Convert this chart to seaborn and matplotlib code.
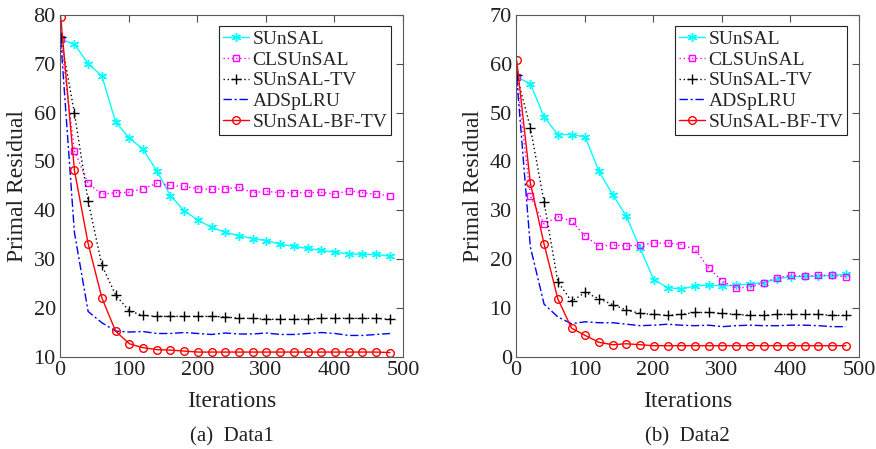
import numpy as np
import pandas as pd
import matplotlib
matplotlib.use("Agg")
import matplotlib.pyplot as plt
import seaborn as sns

# Iteration indices at which residuals were recorded
iterations = list(range(1, 482, 20))

methods = ["SUnSAL", "CLSUnSAL", "SUnSAL-TV", "ADSpLRU", "SUnSAL-BF-TV"]

# Data1 primal residuals
d1_sunsal = [75.0, 74.0, 70.0, 67.5, 58.1, 54.8, 52.5, 48.1, 43.0, 39.9, 38.0, 36.5, 35.5,
             34.8, 34.2, 33.8, 33.1, 32.6, 32.2, 31.8, 31.4, 31.1, 31.0, 31.0, 30.6]
d1_clsunsal = [75.0, 52.2, 45.5, 43.3, 43.6, 43.7, 44.4, 45.5, 45.1, 44.9, 44.4, 44.3, 44.4,
               44.7, 43.6, 43.9, 43.6, 43.6, 43.6, 43.7, 43.3, 44.0, 43.6, 43.3, 43.0]
d1_sunsal_tv = [75.4, 59.9, 41.9, 28.8, 22.7, 19.4, 18.5, 18.3, 18.3, 18.3, 18.3, 18.3, 18.2,
                17.9, 17.9, 17.7, 17.7, 17.7, 17.7, 17.9, 17.9, 17.9, 17.9, 17.9, 17.7]
d1_adsplru = [75.0, 35.5, 19.3, 17.0, 15.3, 15.1, 15.2, 14.8, 14.8, 15.0, 14.8, 14.6, 14.9,
              14.7, 14.7, 14.9, 14.6, 14.6, 14.8, 15.0, 14.8, 14.4, 14.4, 14.6, 14.8]
d1_bftv = [79.6, 48.2, 33.2, 22.1, 15.3, 12.7, 11.9, 11.5, 11.4, 11.2, 11.0, 11.0, 11.0,
           11.0, 11.0, 11.0, 11.0, 11.0, 11.0, 11.0, 11.0, 11.0, 11.0, 11.0, 10.9]

# Data2 primal residuals
d2_sunsal = [57.3, 55.9, 49.1, 45.5, 45.5, 45.0, 38.0, 33.2, 28.8, 22.2, 15.8, 14.2, 13.9,
             14.5, 14.7, 14.5, 14.7, 14.9, 15.2, 16.0, 16.4, 16.5, 16.5, 16.7, 16.9]
d2_clsunsal = [57.3, 32.9, 27.2, 28.7, 27.8, 24.7, 22.7, 22.9, 22.7, 22.9, 23.3, 23.3, 23.0,
               22.0, 18.2, 15.5, 14.1, 14.3, 15.2, 16.2, 16.7, 16.5, 16.7, 16.7, 16.4]
d2_sunsal_tv = [57.7, 46.9, 31.7, 15.4, 11.4, 13.2, 11.9, 10.7, 9.6, 8.9, 8.7, 8.5, 8.7,
                9.1, 9.1, 8.9, 8.7, 8.5, 8.5, 8.7, 8.7, 8.7, 8.7, 8.5, 8.5]
d2_adsplru = [57.3, 22.5, 10.8, 8.2, 6.8, 7.2, 7.0, 7.0, 6.7, 6.4, 6.5, 6.7, 6.5,
              6.4, 6.5, 6.2, 6.4, 6.5, 6.4, 6.4, 6.5, 6.5, 6.4, 6.2, 6.2]
d2_bftv = [60.7, 35.6, 23.1, 11.9, 5.9, 4.4, 3.0, 2.5, 2.7, 2.5, 2.3, 2.3, 2.3,
           2.3, 2.3, 2.3, 2.3, 2.3, 2.3, 2.3, 2.3, 2.3, 2.3, 2.3, 2.3]

x_ticks = [0, 100, 200, 300, 400, 500]
d1_yticks = [10, 20, 30, 40, 50, 60, 70, 80]
d2_yticks = [0, 10, 20, 30, 40, 50, 60, 70]

sns.set_style("white")
plt.rcParams["font.family"] = ["Liberation Serif", "DejaVu Serif"]

# line appearance per method
styles = {
    "SUnSAL": dict(color="#00ffff", ls="-", marker=(6, 2, 0), ms=6.5, mfc="#00ffff"),
    "CLSUnSAL": dict(color="#ff00ff", ls=(0, (1, 2)), marker="s", ms=4.5, mfc="none"),
    "SUnSAL-TV": dict(color="black", ls=(0, (1, 2)), marker="+", ms=6.5, mfc="none"),
    "ADSpLRU": dict(color="#0000ff", ls=(0, (6, 2, 1.5, 2)), marker="None", ms=0, mfc="none"),
    "SUnSAL-BF-TV": dict(color="#ff0000", ls="-", marker="o", ms=5.5, mfc="none"),
}


def draw_panel(ax, series, yticks, caption):
    handles = []
    for name, vals in zip(methods, series):
        st = styles[name]
        sns.lineplot(x=iterations, y=vals, ax=ax, color=st["color"], linewidth=1.0,
                     legend=False)
        line = ax.lines[-1]
        line.set_linestyle(st["ls"])
        line.set_marker(st["marker"])
        line.set_markersize(st["ms"])
        line.set_markerfacecolor(st["mfc"])
        line.set_markeredgecolor(st["color"])
        line.set_markeredgewidth(1.0)
        line.set_label(name)
        handles.append(line)
    ax.set_xlim(0, 500)
    ax.set_ylim(yticks[0], yticks[-1])
    ax.set_xticks(x_ticks)
    ax.set_yticks(yticks)
    ax.tick_params(direction="in", length=5, width=0.8, top=True, right=True,
                   labelsize=16, colors="#4d4d4d", labelcolor="#222222", pad=3)
    for sp in ax.spines.values():
        sp.set_color("#5a5a5a")
        sp.set_linewidth(0.8)
    ax.set_xlabel("Iterations", fontsize=17, color="#222222", labelpad=8)
    ax.set_ylabel("Primal Residual", fontsize=17, color="#222222", labelpad=4)
    leg = ax.legend(handles=handles, loc="upper right", fontsize=14, frameon=True,
                    fancybox=False, edgecolor="#222222", framealpha=1, borderpad=0.2,
                    labelspacing=0.16, handlelength=1.3, handletextpad=0.2,
                    borderaxespad=0.6)
    leg.get_frame().set_linewidth(0.8)
    ax.text(0.5, -0.205, caption, transform=ax.transAxes, ha="center", va="top",
            fontsize=15, color="#222222")


fig = plt.figure(figsize=(8.76, 4.49), dpi=100)
ax1 = fig.add_axes([0.0685, 0.205, 0.3915, 0.762])
ax2 = fig.add_axes([0.589, 0.205, 0.3915, 0.762])

draw_panel(ax1, [d1_sunsal, d1_clsunsal, d1_sunsal_tv, d1_adsplru, d1_bftv],
           d1_yticks, "(a)  Data1")
draw_panel(ax2, [d2_sunsal, d2_clsunsal, d2_sunsal_tv, d2_adsplru, d2_bftv],
           d2_yticks, "(b)  Data2")

fig.savefig("out.png", dpi=100)
